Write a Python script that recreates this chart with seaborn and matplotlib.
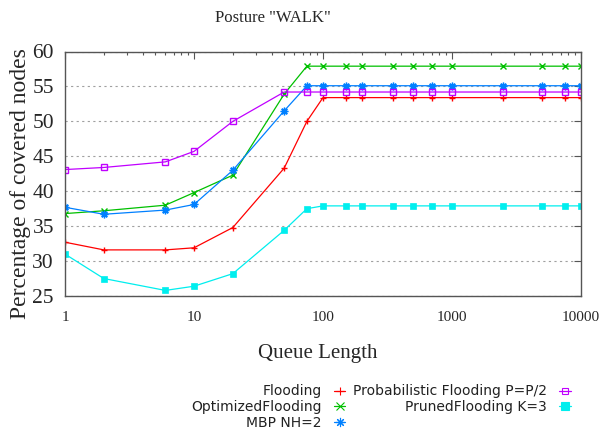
import matplotlib
matplotlib.use("Agg")
import matplotlib.pyplot as plt
import seaborn as sns
from matplotlib.lines import Line2D

queue_length = [1, 2, 6, 10, 20, 50, 75, 100, 150, 200, 350, 500, 700, 1000, 2500, 5000, 7500, 10000]
flooding = [32.7, 31.6, 31.6, 31.9, 34.8, 43.3, 50.0, 53.4, 53.4, 53.4, 53.4, 53.4, 53.4, 53.4, 53.4, 53.4, 53.4, 53.4]
optimized_flooding = [36.8, 37.2, 38.0, 39.8, 42.3, 53.9, 57.9, 57.9, 57.9, 57.9, 57.9, 57.9, 57.9, 57.9, 57.9, 57.9, 57.9, 57.9]
mbp_nh2 = [37.7, 36.7, 37.3, 38.1, 43.0, 51.5, 55.1, 55.1, 55.1, 55.1, 55.1, 55.1, 55.1, 55.1, 55.1, 55.1, 55.1, 55.1]
probabilistic = [43.1, 43.4, 44.2, 45.7, 50.0, 54.2, 54.2, 54.2, 54.2, 54.2, 54.2, 54.2, 54.2, 54.2, 54.2, 54.2, 54.2, 54.2]
pruned = [31.0, 27.5, 25.8, 26.4, 28.2, 34.4, 37.5, 37.9, 37.9, 37.9, 37.9, 37.9, 37.9, 37.9, 37.9, 37.9, 37.9, 37.9]

series_names = ["Flooding", "OptimizedFlooding", "MBP NH=2",
                "Probabilistic Flooding P=P/2", "PrunedFlooding K=3"]
xtick_values = [1, 10, 100, 1000, 10000]
xtick_labels = ["1", "10", "100", "1000", "10000"]
ytick_values = [25, 30, 35, 40, 45, 50, 55, 60]
ytick_labels = ["25", "30", "35", "40", "45", "50", "55", "60"]

sns.set_style("white")
plt.rcParams["font.family"] = ["Liberation Serif", "DejaVu Serif"]

fig = plt.figure(figsize=(6.13, 4.29), dpi=100)
ax = fig.add_axes([65 / 613, 1 - 296 / 429, 516 / 613, 244.5 / 429])
ax.set_xscale("log")

styles = [
    dict(color="#ff0000", marker="+", ms=5, mfc="#ff0000", mec="#ff0000", mew=1.0),
    dict(color="#00c000", marker="x", ms=4.5, mfc="#00c000", mec="#00c000", mew=1.0),
    dict(color="#0080ff", marker=(8, 2, 0), ms=5.5, mfc="#0080ff", mec="#0080ff", mew=1.0),
    dict(color="#c000ff", marker="s", ms=4.0, mfc="none", mec="#c000ff", mew=1.0),
    dict(color="#00eeee", marker="s", ms=4.4, mfc="#00eeee", mec="#00eeee", mew=0.5),
]
all_series = [flooding, optimized_flooding, mbp_nh2, probabilistic, pruned]

for vals, st in zip(all_series, styles):
    sns.lineplot(x=queue_length, y=vals, ax=ax, color=st["color"], marker=st["marker"],
                 markersize=st["ms"], markerfacecolor=st["mfc"], markeredgecolor=st["mec"],
                 markeredgewidth=st["mew"], linewidth=0.9, errorbar=None, legend=False)

ax.set_xlim(1, 10000)
ax.set_ylim(25, 60)
ax.set_xticks(xtick_values)
ax.set_xticklabels(xtick_labels, fontsize=11)
ax.set_yticks(ytick_values)
ax.set_yticklabels(ytick_labels, fontsize=15.5)

ax.yaxis.grid(True, color="#a0a0a0", linestyle=(0, (2, 3)), linewidth=0.8)
ax.xaxis.grid(False)

for sp in ax.spines.values():
    sp.set_visible(True)
    sp.set_color("#555555")
    sp.set_linewidth(1.0)

ax.tick_params(axis="both", which="both", direction="in", top=True, right=True,
               color="#555555", width=0.8)
ax.tick_params(axis="x", which="major", length=5, pad=11)
ax.tick_params(axis="x", which="minor", length=2.5)
ax.tick_params(axis="y", which="major", length=5, pad=8)
ax.tick_params(axis="y", which="minor", left=False, right=False)

ax.set_xlabel("Queue Length", fontsize=15)
ax.xaxis.set_label_coords((318 - 65) / 516, (296 - 344) / 244.5)
ax.set_ylabel("Percentage of covered nodes", fontsize=17)
ax.yaxis.set_label_coords((31 - 65) / 516, (296 - 183.5) / 244.5)

fig.text(273 / 613, 1 - 18 / 429, 'Posture "WALK"', ha="center", va="center", fontsize=12)

handles = []
for name, st in zip(series_names, styles):
    handles.append(Line2D([], [], linestyle="-", linewidth=0.9, color=st["color"],
                          marker=st["marker"], markersize=st["ms"] * 1.2,
                          markerfacecolor=st["mfc"], markeredgecolor=st["mec"],
                          markeredgewidth=0.8))
leg = fig.legend(handles, series_names, loc="upper right", ncol=2, markerfirst=False,
                 frameon=False, bbox_to_anchor=(570.6 / 613, 1 - 384.5 / 429),
                 borderaxespad=0, borderpad=0, handlelength=0.8, handletextpad=0.91,
                 columnspacing=0.53, labelspacing=0.12,
                 prop={"family": "DejaVu Sans", "size": 10})
for t in leg.get_texts():
    t.set_color("#222222")

fig.savefig("out.png", dpi=100)
